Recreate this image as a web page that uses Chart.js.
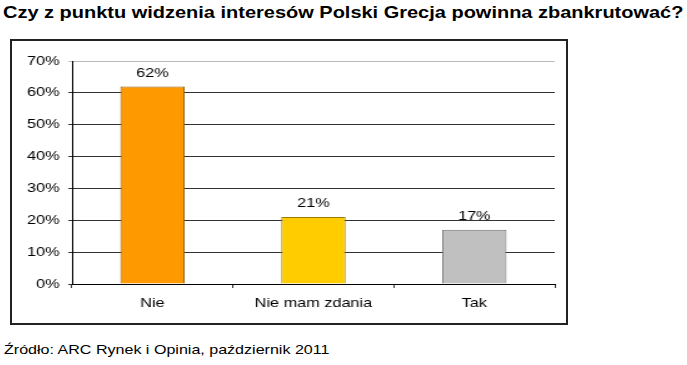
<!DOCTYPE html>
<html>
<head>
<meta charset="utf-8">
<script src="https://cdn.jsdelivr.net/npm/chart.js@4"></script>
<style>
    body { margin: 0; background: #fff; font-family: "Liberation Sans", Arial, sans-serif; }
    #title { position: absolute; left: 3px; top: 3px; font-size: 17px; font-weight: bold; color: #000; white-space: nowrap; transform: scaleX(1.175); transform-origin: 0 0; }
    #box { position: absolute; left: 10px; top: 39px; width: 554px; height: 282px; border: 2px solid #222; overflow: hidden; }
    #stretch { width: 443px; height: 282px; transform: scaleX(1.2506); transform-origin: 0 0; }
    #source { position: absolute; left: 4px; top: 342px; font-size: 13px; color: #000; white-space: nowrap; transform: scaleX(1.235); transform-origin: 0 0; }
</style>
</head>
<body>
<div id="title">Czy z punktu widzenia interesów Polski Grecja powinna zbankrutować?</div>
<div id="box"><div id="stretch"><canvas id="myChart" width="443" height="282"></canvas></div></div>
<div id="source">Źródło: ARC Rynek i Opinia, październik 2011</div>
<script>
// dane
const categories = ['Nie', 'Nie mam zdania', 'Tak'];
const values = [62, 21, 17];
const yTicks = [0, 10, 20, 30, 40, 50, 60, 70];
const barColors = ['#ff9900', '#ffcc00', '#c0c0c0'];
const borderColors = ['#8a5a10', '#9a7c00', '#707070'];

const fontFam = '"Liberation Sans", Arial, sans-serif';

// etykiety nad slupkami
const valueLabels = {
    id: 'valueLabels',
    afterDatasetsDraw(chart) {
        const c = chart.ctx;
        c.save();
        c.font = '13px ' + fontFam;
        c.fillStyle = '#000';
        c.textAlign = 'center';
        c.textBaseline = 'bottom';
        chart.getDatasetMeta(0).data.forEach(function(bar, i) {
            c.fillText(values[i] + '%', bar.x, bar.y - 7);
        });
        c.restore();
    }
};

const ctx = document.getElementById('myChart').getContext('2d');
const myChart = new Chart(ctx, {
    type: 'bar',
    data: {
        labels: categories,
        datasets: [{
            data: values,
            backgroundColor: barColors,
            borderColor: borderColors,
            borderWidth: 1,
            barPercentage: 0.4,
            categoryPercentage: 1
        }]
    },
    options: {
        responsive: false,
        animation: false,
        layout: { padding: { top: 20, right: 9, left: 0, bottom: 0 } },
        plugins: { legend: { display: false }, tooltip: { enabled: false } },
        scales: {
            x: {
                grid: { drawOnChartArea: false, offset: true, tickLength: 4, color: '#333' },
                border: { color: '#000', width: 1 },
                ticks: { color: '#000', padding: 8, font: { size: 13, family: fontFam } },
                afterFit: function(s) { s.height = 39; }
            },
            y: {
                min: 0,
                max: 70,
                afterBuildTicks: function(s) { s.ticks = yTicks.map(v => ({ value: v })); },
                grid: {
                    color: function(c) { return c.tick && c.tick.value === 70 ? '#bbbbbb' : '#333'; },
                    tickLength: 3
                },
                border: { color: '#000', width: 1 },
                ticks: {
                    color: '#000',
                    padding: 7,
                    font: { size: 13, family: fontFam },
                    callback: function(v) { return v + '%'; }
                },
                afterFit: function(s) { s.width = 48; }
            }
        }
    },
    plugins: [valueLabels]
});
</script>
</body>
</html>
